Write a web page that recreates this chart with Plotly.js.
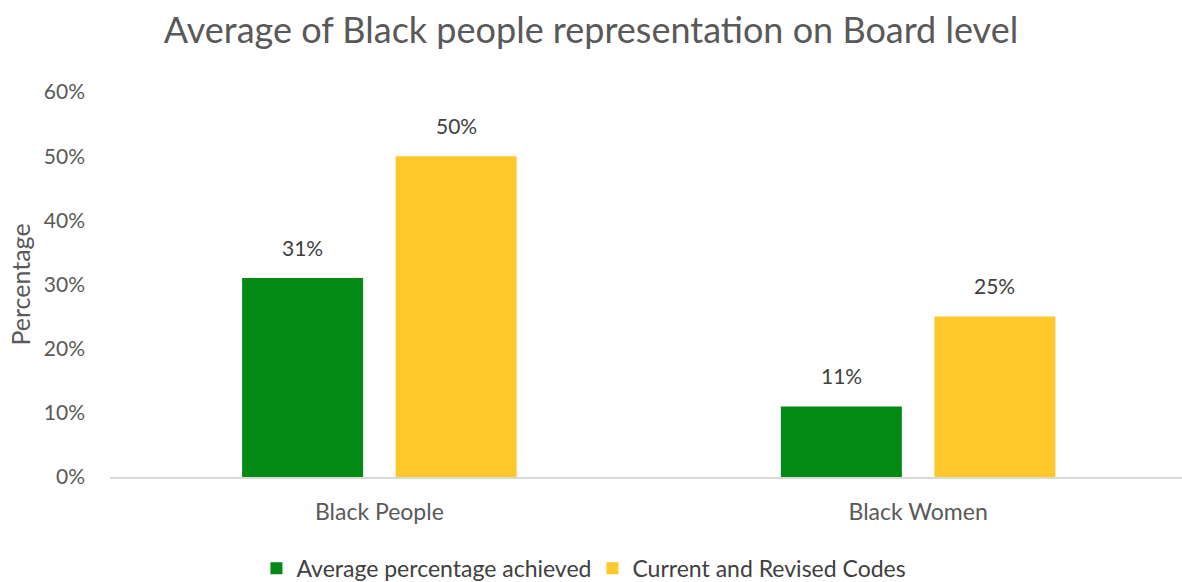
<!DOCTYPE html>
<html>
<head>
<meta charset="utf-8">
<script src="https://cdn.plot.ly/plotly-3.0.1.min.js"></script>
<style>html,body{margin:0;padding:0;background:#fff;}#chart{width:1182px;height:582px;}</style>
</head>
<body>
<div id="chart"></div>
<script>
var categories = ["Black People", "Black Women"];
var seriesNames = ["Average percentage achieved", "Current and Revised Codes"];
var averageAchieved = [0.31, 0.11];
var currentRevised = [0.50, 0.25];
var yTickVals = [0, 0.1, 0.2, 0.3, 0.4, 0.5, 0.6];
var yTickText = ["0%", "10%", "20%", "30%", "40%", "50%", "60%"];

var FONT = "Lato, 'Open Sans', sans-serif";
var colors = ["#028A14", "#FEC72A"];
var series = [averageAchieved, currentRevised];

var marginL = 109.5, plotW = 1182 - marginL;
var range = [-0.5, 1.4898];
var pxPerUnit = plotW / (range[1] - range[0]);
var bargap = 0.43, bargroupgap = 0.212;
var groupW = (1 - bargap) * pxPerUnit;

var traces = series.map(function (vals, i) {
  return {
    type: "bar",
    name: seriesNames[i],
    x: categories,
    y: vals,
    marker: {color: colors[i]},
    hoverinfo: "skip"
  };
});

var annotations = [];
series.forEach(function (vals, i) {
  var shift = (i - 0.5) * groupW / 2;
  vals.forEach(function (v, j) {
    annotations.push({
      x: categories[j], y: v, xref: "x", yref: "y",
      text: Math.round(v * 100) + "%",
      showarrow: false, xshift: shift, yshift: 31,
      font: {family: FONT, size: 21, color: "#404040"}
    });
  });
});

var layout = {
  width: 1182, height: 582,
  margin: {l: marginL, r: 0, t: 92, b: 104.5, autoexpand: false},
  paper_bgcolor: "#fff", plot_bgcolor: "#fff",
  barmode: "group", bargap: bargap, bargroupgap: bargroupgap,
  title: {text: "Average of Black people representation on Board level",
          font: {family: FONT, size: 36, color: "#595959"},
          x: 0.5, xref: "container", xanchor: "center", y: 0.948, yanchor: "middle"},
  xaxis: {range: range, showgrid: false, zeroline: false, showline: true,
          linecolor: "#d9d9d9", linewidth: 2, ticks: "",
          tickfont: {family: FONT, size: 23, color: "#595959"}, ticklabelstandoff: 13},
  yaxis: {range: [0, 0.6], tickvals: yTickVals, ticktext: yTickText,
          showgrid: false, zeroline: false, showline: false, ticks: "",
          ticklabelstandoff: 24,
          tickfont: {family: FONT, size: 21, color: "#595959"},
          title: {text: "Percentage", font: {family: FONT, size: 25, color: "#595959"}, standoff: 6}},
  showlegend: true,
  legend: {orientation: "h", x: 0.1366, xanchor: "left", y: -0.181, yanchor: "top",
           entrywidth: 291, entrywidthmode: "pixels",
           font: {family: FONT, size: 23, color: "#404040"}, itemclick: false, traceorder: "normal"},
  annotations: annotations
};

Plotly.newPlot("chart", traces, layout, {displayModeBar: false, staticPlot: true});
</script>
</body>
</html>
